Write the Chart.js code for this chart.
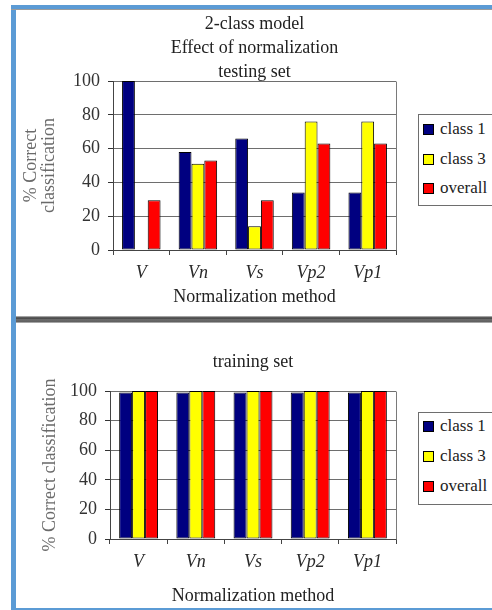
<!DOCTYPE html>
<html>
<head>
<meta charset="utf-8">
<script src="https://cdn.jsdelivr.net/npm/chart.js@4/dist/chart.umd.min.js"></script>
<style>
  html, body { margin: 0; padding: 0; background: #fff; }
  body { position: relative; width: 492px; height: 610px; overflow: hidden; font-family: "Liberation Serif", "Times New Roman", serif; }
  .frame-left { position: absolute; left: 11px; top: 5px; width: 5px; height: 605px; background: #5b9bd5; }
  .frame-top { position: absolute; left: 11px; top: 5px; width: 481px; height: 4px; background: #5b9bd5; border-bottom: 1px solid #9c9c9c; }
  .frame-bottom { position: absolute; left: 11px; top: 608px; width: 481px; height: 2px; background: #5b9bd5; }
  .divider { position: absolute; left: 16px; top: 316px; width: 476px; height: 7px;
    background: linear-gradient(#c8c8c8 0%, #575757 22%, #4a4a4a 40%, #7a7a7a 55%, #505050 75%, #c8c8c8 100%); }
  canvas { position: absolute; left: 0; }
  #c1 { top: 0; }
  #c2 { top: 324px; }
  .legend { position: absolute; left: 418px; width: 110px; border: 1px solid #6e6e6e; background: #fff; }
  .legend .item { position: absolute; left: 0; height: 20px; display: flex; align-items: center; font-size: 17px; color: #222; white-space: nowrap; }
  .legend .sw { display: inline-block; width: 9px; height: 9px; border: 1px solid #000; margin-left: 4px; margin-right: 6px; }
</style>
</head>
<body>
<div class="frame-left"></div>
<div class="frame-top"></div>
<div class="divider"></div>
<div class="frame-bottom"></div>

<canvas id="c1" width="400" height="310"></canvas>
<canvas id="c2" width="400" height="286"></canvas>

<div class="legend" id="legend1" style="top:114px;height:90px;"></div>
<div class="legend" id="legend2" style="top:412px;height:91px;"></div>

<script>
// Normalization methods on the category axis
const methods = ['V', 'Vn', 'Vs', 'Vp2', 'Vp1'];
const seriesNames = ['class 1', 'class 3', 'overall'];
const seriesColors = ['#000080', '#ffff00', '#ff0000'];
const yTicks = [0, 20, 40, 60, 80, 100];

// % correct classification, testing set
const testClass1 = [100, 58, 66, 34, 34];
const testClass3 = [0, 51, 14, 76, 76];
const testOverall = [29.5, 53, 29.5, 63, 63];

// % correct classification, training set
const trainClass1 = [99, 99, 99, 99, 99];
const trainClass3 = [100, 100, 100, 100, 100];
const trainOverall = [100, 100, 100, 100, 100];

const SERIF = '"Liberation Serif", "Times New Roman", serif';

// thin grey edge on the right side of the plotting area
const plotFrame = {
  id: 'plotFrame',
  afterDatasetsDraw(chart) {
    const { ctx, chartArea: a } = chart;
    ctx.save();
    ctx.strokeStyle = '#7a7a7a';
    ctx.lineWidth = 1;
    ctx.beginPath();
    ctx.moveTo(Math.round(a.right) + 0.5, Math.round(a.top) + 0.5);
    ctx.lineTo(Math.round(a.right) + 0.5, Math.round(a.bottom) + 0.5);
    ctx.stroke();
    ctx.restore();
  }
};

function datasets(values) {
  return values.map((v, i) => ({
    label: seriesNames[i],
    data: v,
    backgroundColor: seriesColors[i],
    borderColor: '#000',
    borderWidth: 1,
    borderSkipped: false,
    categoryPercentage: 0.68,
    barPercentage: 1.0
  }));
}

function makeChart(id, cfg) {
  return new Chart(document.getElementById(id), {
    type: 'bar',
    data: { labels: methods, datasets: datasets(cfg.values) },
    plugins: [plotFrame],
    options: {
      responsive: false,
      animation: false,
      layout: { padding: cfg.layoutPad },
      plugins: {
        legend: { display: false },
        tooltip: { enabled: false },
        title: {
          display: true,
          fullSize: false,
          text: cfg.title,
          color: '#222',
          font: { family: SERIF, size: 18, weight: 'normal', lineHeight: '24px' },
          padding: cfg.titlePad
        }
      },
      scales: {
        x: {
          offset: true,
          grid: { offset: true, drawOnChartArea: false, drawTicks: true, tickLength: 5, color: '#444' },
          border: { display: true, color: '#444' },
          ticks: { color: '#2a2a2a', font: { family: SERIF, size: 18, style: 'italic' }, padding: cfg.xTickPad, maxRotation: 0 },
          title: {
            display: true, text: 'Normalization method', color: '#222',
            font: { family: SERIF, size: 18, lineHeight: 1.2 },
            padding: { top: 0, bottom: 0 }
          },
          afterFit(s) { s.height = cfg.xHeight; s.paddingLeft = 0; s.paddingRight = 0; }
        },
        y: {
          min: 0, max: 100,
          afterBuildTicks(s) { s.ticks = yTicks.map(v => ({ value: v })); },
          grid: { color: '#6e6e6e', lineWidth: 1, tickLength: 5, tickColor: '#333' },
          border: { display: true, color: '#444' },
          ticks: { color: '#333', font: { family: SERIF, size: 18 }, padding: cfg.yTickPad },
          title: {
            display: true, text: cfg.yTitle, color: '#6a6a6a',
            font: { family: SERIF, size: 18, lineHeight: 1.0 },
            padding: { top: cfg.yTitlePad, bottom: 0 }
          },
          afterFit(s) { s.width = cfg.yWidth; s.paddingTop = 0; s.paddingBottom = 0; }
        }
      }
    }
  });
}

makeChart('c1', {
  values: [testClass1, testClass3, testOverall],
  title: ['2-class model', 'Effect of normalization', 'testing set'],
  titlePad: { top: 12.5, bottom: -3.5 },
  layoutPad: { top: 0, left: 0, right: 4, bottom: 2 },
  xHeight: 58, xTickPad: 7,
  yWidth: 113, yTickPad: 8,
  yTitle: ['% Correct', 'classification'], yTitlePad: 22
});

makeChart('c2', {
  values: [trainClass1, trainClass3, trainOverall],
  title: 'training set',
  titlePad: { top: 26, bottom: 17 },
  layoutPad: { top: 0, left: 0, right: 4, bottom: 3 },
  xHeight: 68, xTickPad: 7,
  yWidth: 110, yTickPad: 8,
  yTitle: '% Correct classification', yTitlePad: 41
});

// legends drawn beside each plot
function buildLegend(id, centers) {
  const box = document.getElementById(id);
  seriesNames.forEach((name, i) => {
    const item = document.createElement('div');
    item.className = 'item';
    item.style.top = (centers[i] - 10) + 'px';
    const sw = document.createElement('span');
    sw.className = 'sw';
    sw.style.background = seriesColors[i];
    item.appendChild(sw);
    item.appendChild(document.createTextNode(name));
    box.appendChild(item);
  });
}
buildLegend('legend1', [14, 44, 73]);
buildLegend('legend2', [13, 43, 73]);
</script>
</body>
</html>
